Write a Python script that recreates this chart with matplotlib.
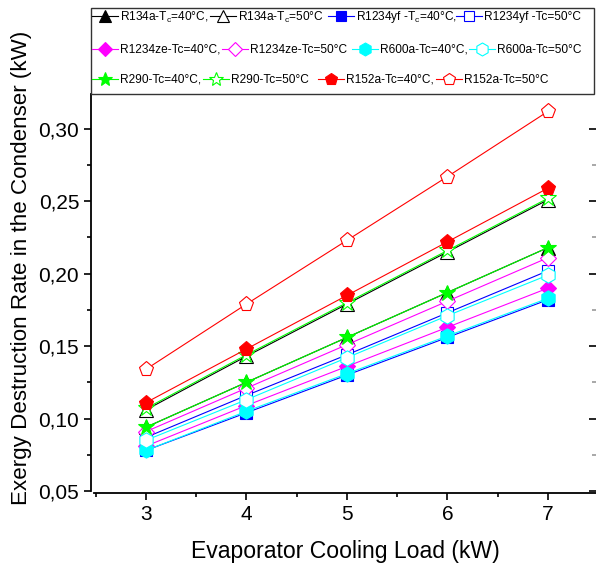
import matplotlib
matplotlib.use('Agg')
import matplotlib.pyplot as plt
from matplotlib.patches import Rectangle
from matplotlib.lines import Line2D
from matplotlib.ticker import MultipleLocator, FuncFormatter

plt.rcParams['font.family'] = ['Liberation Sans', 'DejaVu Sans']
plt.rcParams['mathtext.default'] = 'regular'

# evaporator cooling load (kW)
load = [3, 4, 5, 6, 7]

# exergy destruction rate in condenser (kW)
r134a_40 = [0.094, 0.125, 0.156, 0.187, 0.218]
r134a_50 = [0.106, 0.143, 0.179, 0.215, 0.251]
r1234yf_40 = [0.078, 0.104, 0.130, 0.156, 0.182]
r1234yf_50 = [0.087, 0.116, 0.144, 0.173, 0.202]
r1234ze_40 = [0.081, 0.109, 0.136, 0.163, 0.190]
r1234ze_50 = [0.091, 0.121, 0.151, 0.181, 0.211]
r600a_40 = [0.078, 0.105, 0.131, 0.157, 0.183]
r600a_50 = [0.085, 0.113, 0.142, 0.171, 0.199]
r290_40 = [0.094, 0.125, 0.156, 0.187, 0.218]
r290_50 = [0.107, 0.144, 0.180, 0.216, 0.252]
r152a_40 = [0.111, 0.148, 0.185, 0.222, 0.259]
r152a_50 = [0.134, 0.179, 0.223, 0.267, 0.312]

labels = ['R134a-T$_c$=40°C,', 'R134a-T$_c$=50°C',
          'R1234yf -T$_c$=40°C,', 'R1234yf -Tc=50°C',
          'R1234ze-Tc=40°C,', 'R1234ze-Tc=50°C',
          'R600a-Tc=40°C,', 'R600a-Tc=50°C',
          'R290-Tc=40°C,', 'R290-Tc=50°C',
          'R152a-Tc=40°C,', 'R152a-Tc=50°C']
series = [r134a_40, r134a_50, r1234yf_40, r1234yf_50, r1234ze_40, r1234ze_50,
          r600a_40, r600a_50, r290_40, r290_50, r152a_40, r152a_50]
colors = ['black', 'black', '#0000ff', '#0000ff', '#ff00ff', '#ff00ff',
          '#00ffff', '#00ffff', '#00ff00', '#00ff00', '#ff0000', '#ff0000']
markers = ['^', '^', 's', 's', 'D', 'D', 'h', 'h', '*', '*', 'p', 'p']
sizes = [10, 10, 8, 8, 8, 8, 11, 11, 12, 12, 11, 11]

W, H = 596, 565
fig = plt.figure(figsize=(W / 100, H / 100), dpi=100)
ax = fig.add_axes([94 / W, 1 - 491 / H, (W - 94) / W, (491 - 94) / H])

handles = []
for y, lab, c, m, s, i in zip(series, labels, colors, markers, sizes, range(12)):
    filled = i % 2 == 0
    ln, = ax.plot(load, y, color=c, lw=0.8, marker=m, ms=s,
                  mfc=c if filled else 'white', mec=c, mew=0.8, label=lab)
    handles.append(ln)

ax.set_xlim(2.483, 7.478)
ax.set_ylim(0.05, 0.324)
ax.xaxis.set_major_locator(MultipleLocator(1))
ax.xaxis.set_minor_locator(MultipleLocator(0.5))
ax.yaxis.set_major_locator(MultipleLocator(0.05))
ax.yaxis.set_minor_locator(MultipleLocator(0.025))
ax.yaxis.set_major_formatter(FuncFormatter(lambda v, p: f'{v:.2f}'.replace('.', ',')))

ax.spines['left'].set_position(('outward', 2.2))
ax.spines['bottom'].set_position(('outward', 1.4))
ax.spines['top'].set_visible(False)
ax.spines['right'].set_visible(False)
for sp in ['left', 'bottom']:
    ax.spines[sp].set_linewidth(1.3)
ax.tick_params(which='both', direction='out', width=1.2, labelsize=15)
ax.tick_params(which='major', length=5)
ax.tick_params(which='minor', length=3)

# right side ticks pointing inward, no labels
sec = ax.secondary_yaxis('right')
sec.spines['right'].set_visible(False)
sec.yaxis.set_major_locator(MultipleLocator(0.05))
sec.yaxis.set_minor_locator(MultipleLocator(0.025))
sec.tick_params(which='both', direction='in', width=1.2, labelright=False)
sec.tick_params(which='major', length=5)
sec.tick_params(which='minor', length=3, color='#999999')

ax.set_xlabel('Evaporator Cooling Load (kW)', fontsize=16.6, labelpad=12)
ax.set_ylabel('Exergy Destruction Rate in the Condenser (kW)', fontsize=16.1)
ax.yaxis.set_label_coords(-0.1235, 0.562)

# legend box above the plot
fig.patches.append(Rectangle((91 / W, 1 - 94 / H), (594 - 91) / W, (94 - 8) / H,
                             transform=fig.transFigure, fill=False,
                             edgecolor='#333333', lw=1.0))

# legend entries placed row by row like the original
pos = [(92, 17), (210, 17), (328, 17), (456, 17),
       (92, 50), (222, 50), (352, 50), (469, 50),
       (92, 80), (203, 80), (318, 80), (436, 80)]
for h, (px, py) in zip(handles, pos):
    proxy = Line2D([], [], color=h.get_color(), lw=0.8, marker=h.get_marker(),
                   ms=h.get_markersize() * 0.85, mfc=h.get_markerfacecolor(),
                   mec=h.get_markeredgecolor(), mew=0.8)
    leg = fig.legend([proxy], [h.get_label()], loc='center left',
                     bbox_to_anchor=(px / W, 1 - py / H), frameon=False,
                     fontsize=8.6, handlelength=2.2, handletextpad=0.15,
                     borderpad=0, borderaxespad=0)

fig.savefig('out.png', dpi=100)
